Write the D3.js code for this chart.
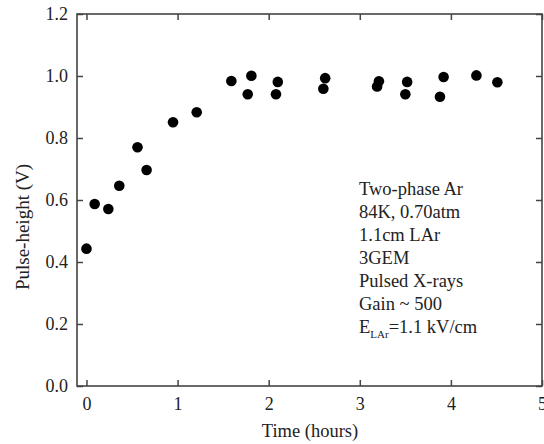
<!DOCTYPE html>
<html>
<head>
<meta charset="utf-8">
<script src="https://cdn.jsdelivr.net/npm/d3@7"></script>
<style>
	body { margin: 0; background: #fff; }
	svg text { font-family: "Liberation Serif", "Times New Roman", serif; fill: #222; }
</style>
</head>
<body>
<div id="chart"></div>
<script>
// Data
var timeHours = [0.00, 0.09, 0.24, 0.36, 0.56, 0.66, 0.95, 1.21, 1.59, 1.77, 1.81,
	2.08, 2.10, 2.60, 2.62, 3.19, 3.21, 3.50, 3.52, 3.88, 3.92, 4.28, 4.51];
var pulseHeight = [0.443, 0.587, 0.571, 0.646, 0.770, 0.697, 0.851, 0.883, 0.984, 0.941, 1.001,
	0.941, 0.981, 0.959, 0.993, 0.966, 0.983, 0.941, 0.981, 0.933, 0.997, 1.002, 0.980];
var xTicks = [0, 1, 2, 3, 4, 5];
var yTicks = [0, 0.2, 0.4, 0.6, 0.8, 1.0, 1.2];
var noteLines = ["Two-phase Ar", "84K, 0.70atm", "1.1cm LAr", "3GEM", "Pulsed X-rays", "Gain ~ 500"];

var width = 544, height = 444;
var margin = {top: 14, right: 2, bottom: 58, left: 77};
var innerW = width - margin.left - margin.right,
		innerH = height - margin.top - margin.bottom;

var xScale = d3.scaleLinear().domain([-0.104, 5]).range([0, innerW]);
var yScale = d3.scaleLinear().domain([0, 1.2]).range([innerH, 0]);

var svg = d3.select("#chart").append("svg")
		.attr("width", width)
		.attr("height", height);

var g = svg.append("g")
		.attr("transform", "translate(" + margin.left + "," + margin.top + ")");

// Axes with inward ticks
var xAxis = d3.axisBottom(xScale).tickValues(xTicks).tickFormat(d3.format("d"))
		.tickSizeInner(-6).tickSizeOuter(0).tickPadding(11);
var yAxis = d3.axisLeft(yScale).tickValues(yTicks).tickFormat(d3.format(".1f"))
		.tickSizeInner(-6).tickSizeOuter(0).tickPadding(9);

g.append("g").attr("class", "x axis")
		.attr("transform", "translate(0," + innerH + ")")
		.call(xAxis);
g.append("g").attr("class", "y axis")
		.call(yAxis);
g.append("g").attr("class", "x2 axis")
		.call(d3.axisTop(xScale).tickValues(xTicks).tickSizeInner(-6).tickSizeOuter(0).tickFormat(""));
g.append("g").attr("class", "y2 axis")
		.attr("transform", "translate(" + innerW + ",0)")
		.call(d3.axisRight(yScale).tickValues(yTicks).tickSizeInner(-6).tickSizeOuter(0).tickFormat(""));

g.selectAll(".domain").remove();
g.selectAll(".tick line").attr("stroke", "#444").attr("stroke-width", 1.5);
g.selectAll(".tick text")
		.style("font-size", "18px")
		.attr("fill", "#222");

// Frame
g.append("rect")
		.attr("width", innerW)
		.attr("height", innerH)
		.attr("fill", "none")
		.attr("stroke", "#444")
		.attr("stroke-width", 1.6);

// Points
g.append("g").selectAll("circle")
		.data(timeHours)
		.enter().append("circle")
		.attr("cx", function(d) { return xScale(d); })
		.attr("cy", function(d, i) { return yScale(pulseHeight[i]); })
		.attr("r", 5.3)
		.attr("fill", "#000");

// Axis titles
svg.append("text")
		.attr("x", 310)
		.attr("y", 437)
		.attr("text-anchor", "middle")
		.style("font-size", "18.5px")
		.text("Time (hours)");

svg.append("text")
		.attr("transform", "translate(29,227) rotate(-90)")
		.attr("text-anchor", "middle")
		.style("font-size", "19px")
		.text("Pulse-height (V)");

// Annotation
var note = svg.append("g").attr("transform", "translate(359,195)");
note.selectAll("text.line")
		.data(noteLines)
		.enter().append("text")
		.attr("class", "line")
		.attr("y", function(d, i) { return i * 23; })
		.style("font-size", "18.5px")
		.text(function(d) { return d; });

var last = note.append("text")
		.attr("y", noteLines.length * 23)
		.style("font-size", "18.5px");
last.append("tspan").text("E");
last.append("tspan").attr("dy", 5).style("font-size", "11px").text("LAr");
last.append("tspan").attr("dy", -5).text("=1.1 kV/cm");
</script>
</body>
</html>
